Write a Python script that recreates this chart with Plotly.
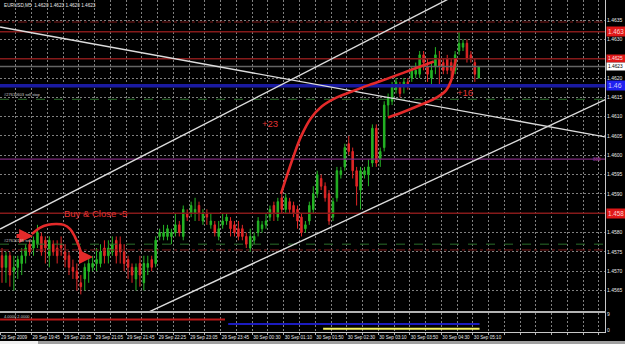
import plotly.graph_objects as go

# ---------------- data ----------------
bar_index = list(range(122))

open_ = [1.4574,1.4571,1.4574,1.4570,1.4571,1.4572,1.4574,1.4577,1.4576,1.4577,
         1.4579,1.4578,1.4574,1.4577,1.4576,1.4577,1.4575,1.4574,1.4571,1.4570,
         1.4567,1.4568,1.4570,1.4571,1.4572,1.4572,1.4576,1.4574,1.4575,1.4578,
         1.4577,1.4575,1.4573,1.4571,1.4568,1.4572,1.4567,1.4571,1.4573,1.4572,
         1.4579,1.4579,1.4579,1.4579,1.4580,1.4582,1.4579,1.4585,1.4585,1.4585,
         1.4587,1.4583,1.4585,1.4582,1.4582,1.4579,1.4582,1.4583,1.4583,1.4582,
         1.4581,1.4581,1.4579,1.4576,1.4578,1.4580,1.4581,1.4582,1.4584,1.4587,
         1.4584,1.4589,1.4586,1.4588,1.4587,1.4586,1.4584,1.4581,1.4583,1.4586,
         1.4590,1.4594,1.4592,1.4590,1.4584,1.4589,1.4595,1.4597,1.4603,1.4601,
         1.4596,1.4591,1.4595,1.4595,1.4598,1.4607,1.4599,1.4602,1.4613,1.4614,
         1.4617,1.4618,1.4618,1.4619,1.4620,1.4621,1.4621,1.4626,1.4623,1.4620,
         1.4623,1.4625,1.4624,1.4625,1.4624,1.4622,1.4627,1.4628,1.4629,1.4626,
         1.4624,1.4620]
high = [1.4576,1.4575,1.4575,1.4574,1.4574,1.4576,1.4577,1.4578,1.4579,1.4582,
        1.4580,1.4579,1.4579,1.4578,1.4578,1.4579,1.4577,1.4575,1.4573,1.4572,
        1.4569,1.4572,1.4574,1.4574,1.4576,1.4577,1.4578,1.4578,1.4579,1.4579,
        1.4579,1.4577,1.4574,1.4572,1.4572,1.4574,1.4574,1.4574,1.4574,1.4579,
        1.4581,1.4582,1.4582,1.4581,1.4585,1.4583,1.4587,1.4586,1.4588,1.4589,
        1.4588,1.4586,1.4586,1.4585,1.4583,1.4583,1.4585,1.4585,1.4584,1.4583,
        1.4583,1.4582,1.4580,1.4581,1.4580,1.4584,1.4583,1.4585,1.4587,1.4588,
        1.4589,1.4590,1.4590,1.4589,1.4588,1.4587,1.4585,1.4583,1.4588,1.4592,
        1.4596,1.4595,1.4593,1.4591,1.4589,1.4597,1.4597,1.4603,1.4605,1.4602,
        1.4597,1.4597,1.4597,1.4599,1.4608,1.4608,1.4602,1.4614,1.4616,1.4619,
        1.4620,1.4619,1.4620,1.4620,1.4623,1.4624,1.4627,1.4627,1.4625,1.4624,
        1.4628,1.4627,1.4625,1.4626,1.4625,1.4627,1.4632,1.4630,1.4630,1.4627,
        1.4625,1.4623]
low = [1.4567,1.4567,1.4566,1.4565,1.4568,1.4569,1.4572,1.4574,1.4574,1.4576,
       1.4574,1.4572,1.4571,1.4574,1.4572,1.4574,1.4571,1.4569,1.4568,1.4565,
       1.4564,1.4565,1.4567,1.4570,1.4570,1.4571,1.4572,1.4572,1.4574,1.4572,
       1.4572,1.4570,1.4568,1.4567,1.4565,1.4566,1.4565,1.4569,1.4570,1.4571,
       1.4578,1.4578,1.4578,1.4577,1.4579,1.4579,1.4578,1.4583,1.4584,1.4583,
       1.4583,1.4582,1.4582,1.4581,1.4579,1.4578,1.4581,1.4582,1.4579,1.4579,
       1.4578,1.4578,1.4576,1.4575,1.4577,1.4579,1.4580,1.4581,1.4583,1.4583,
       1.4583,1.4585,1.4585,1.4585,1.4584,1.4581,1.4579,1.4580,1.4582,1.4585,
       1.4589,1.4591,1.4588,1.4582,1.4583,1.4588,1.4594,1.4596,1.4600,1.4594,
       1.4587,1.4586,1.4594,1.4592,1.4597,1.4597,1.4597,1.4601,1.4610,1.4613,
       1.4616,1.4615,1.4616,1.4617,1.4619,1.4620,1.4620,1.4622,1.4619,1.4618,
       1.4621,1.4618,1.4621,1.4621,1.4620,1.4621,1.4626,1.4627,1.4624,1.4624,
       1.4619,1.4620]
close = [1.4571,1.4574,1.4569,1.4571,1.4573,1.4574,1.4576,1.4575,1.4578,1.4580,
         1.4575,1.4576,1.4578,1.4575,1.4574,1.4576,1.4573,1.4571,1.4570,1.4568,
         1.4566,1.4571,1.4572,1.4572,1.4573,1.4575,1.4574,1.4576,1.4577,1.4574,
         1.4575,1.4572,1.4571,1.4569,1.4571,1.4569,1.4572,1.4572,1.4571,1.4578,
         1.4580,1.4580,1.4581,1.4580,1.4582,1.4580,1.4586,1.4584,1.4587,1.4586,
         1.4585,1.4585,1.4584,1.4583,1.4580,1.4581,1.4583,1.4584,1.4581,1.4580,
         1.4579,1.4579,1.4577,1.4579,1.4579,1.4583,1.4582,1.4583,1.4586,1.4585,
         1.4588,1.4586,1.4589,1.4586,1.4585,1.4583,1.4580,1.4582,1.4587,1.4590,
         1.4595,1.4592,1.4589,1.4583,1.4588,1.4596,1.4596,1.4602,1.4601,1.4596,
         1.4592,1.4596,1.4596,1.4597,1.4607,1.4598,1.4601,1.4613,1.4615,1.4618,
         1.4619,1.4616,1.4619,1.4618,1.4622,1.4622,1.4626,1.4624,1.4621,1.4622,
         1.4626,1.4623,1.4622,1.4622,1.4622,1.4626,1.4629,1.4629,1.4625,1.4625,
         1.4621,1.4623]

time_labels = ["29 Sep 2009", "29 Sep 19:45", "29 Sep 20:25", "29 Sep 21:05",
               "29 Sep 21:45", "29 Sep 22:25", "29 Sep 23:05", "29 Sep 23:45",
               "30 Sep 00:30", "30 Sep 01:10", "30 Sep 01:50", "30 Sep 02:30",
               "30 Sep 03:10", "30 Sep 03:50", "30 Sep 04:30", "30 Sep 05:10"]
# 1.4585 and 1.4625 are hidden behind the coloured price boxes in the original
price_ticks = [1.4565, 1.4570, 1.4575, 1.4580, 1.4590, 1.4595, 1.4600,
               1.4605, 1.4610, 1.4615, 1.4620, 1.4630, 1.4635, 1.4640]

# horizontal level lines: price, colour, width, dash
level_prices = [1.46345, 1.4632, 1.4625, 1.4623, 1.4618, 1.46145, 1.4599, 1.4585, 1.4577, 1.45755]
level_colors = ["#7a1818", "#861a1a", "#861a1a", "#646464", "#1a1aa0", "#2a6e2a",
                "#7e2a7e", "#861a1a", "#2a6e2a", "#7a1818"]
level_widths = [1, 1.6, 1.6, 1.6, 3.5, 1, 1.2, 1.6, 1, 1]
level_dashes = ["dashdot", "solid", "solid", "solid", "solid", "dash", "solid", "solid", "dash", "dashdot"]

# trend lines (bar, price)
trend_upper_x = [-0.5, 130.0]
trend_upper_y = [1.45809, 1.46492]
trend_lower_x = [30.0, 155.0]
trend_lower_y = [1.45560, 1.46153]
trend_down_x = [-0.5, 155.0]
trend_down_y = [1.46332, 1.46044]

# hand-drawn red annotation curves (bar, price)
curve_buy_x = [7.6, 9.6, 11.7, 13.7, 15.7, 17.3, 18.5, 19.5, 20.3]
curve_buy_y = [1.45796, 1.45812, 1.45820, 1.45822, 1.45820, 1.45809, 1.45789, 1.45765, 1.45742]
curve_23_x = [70.8, 72.1, 73.9, 75.9, 78.4, 81.2, 85.0, 88.8, 93.4, 98.5, 104.1, 109.6]
curve_23_y = [1.45900, 1.45941, 1.45995, 1.46049, 1.46096, 1.46127, 1.46150, 1.46165,
              1.46183, 1.46201, 1.46222, 1.46243]
curve_16_x = [98.0, 102.3, 106.6, 110.4, 112.7, 114.0, 114.7, 115.2]
curve_16_y = [1.46098, 1.46114, 1.46132, 1.46150, 1.46168, 1.46194, 1.46225, 1.46250]
arrow_tail_x = [3.3, 19.8]
arrow_head_x = [7.9, 23.1]
arrow_y = [1.45791, 1.45737]

# indicator sub-window segments
sub_red_x, sub_red_y = [-0.5, 56.6], [6.1, 6.1]
sub_blue_x, sub_blue_y = [57.4, 121.2], [3.5, 3.5]
sub_yellow_x, sub_yellow_y = [81.5, 121.2], [0.76, 0.76]

# ---------------- figure ----------------
FONT = "Liberation Sans"
RED = "#e42a2a"
GRID = "rgba(150,150,150,0.85)"
fig = go.Figure()

xr = [-0.51, 153.04]
for p, c, w, d in zip(level_prices, level_colors, level_widths, level_dashes):
    fig.add_trace(go.Scatter(x=xr, y=[p, p], mode="lines", line=dict(color=c, width=w, dash=d),
                             hoverinfo="skip", showlegend=False, xaxis="x", yaxis="y"))

for tx, ty in [(trend_upper_x, trend_upper_y), (trend_lower_x, trend_lower_y), (trend_down_x, trend_down_y)]:
    fig.add_trace(go.Scatter(x=tx, y=ty, mode="lines", line=dict(color="#dcdcdc", width=1.4),
                             hoverinfo="skip", showlegend=False, xaxis="x", yaxis="y"))

fig.add_trace(go.Candlestick(
    x=bar_index, open=open_, high=high, low=low, close=close,
    increasing=dict(line=dict(color="#24b424", width=1), fillcolor="#24b424"),
    decreasing=dict(line=dict(color="#e02626", width=1), fillcolor="#e02626"),
    whiskerwidth=0, showlegend=False, xaxis="x", yaxis="y"))

for cx, cy in [(curve_buy_x, curve_buy_y), (curve_23_x, curve_23_y), (curve_16_x, curve_16_y)]:
    fig.add_trace(go.Scatter(x=cx, y=cy, mode="lines", line=dict(color=RED, width=2.6, shape="spline"),
                             hoverinfo="skip", showlegend=False, xaxis="x", yaxis="y"))

for sx, sy, c in [(sub_red_x, sub_red_y, "#b81818"), (sub_blue_x, sub_blue_y, "#1c1cc0"),
                  (sub_yellow_x, sub_yellow_y, "#f4f060")]:
    fig.add_trace(go.Scatter(x=sx, y=sy, mode="lines", line=dict(color=c, width=2),
                             hoverinfo="skip", showlegend=False, xaxis="x2", yaxis="y2"))

annotations = []
for tx, hx, ay in zip(arrow_tail_x, arrow_head_x, arrow_y):
    annotations.append(dict(x=hx, y=ay, ax=tx, ay=ay, xref="x", yref="y", axref="x", ayref="y",
                            showarrow=True, arrowhead=2, arrowsize=0.7, arrowwidth=4,
                            arrowcolor=RED, text=""))

def txt(x, y, s, size, color, xref="x", yref="y", xanchor="center", yanchor="middle", **kw):
    annotations.append(dict(x=x, y=y, text=s, xref=xref, yref=yref, showarrow=False,
                            xanchor=xanchor, yanchor=yanchor,
                            font=dict(family=FONT, size=size, color=color), **kw))

txt(23.6, 1.45850, "Buy &amp; Close -5", 9.5, "#e03434")
txt(68.0, 1.46083, "+23", 9.5, "#e03434")
txt(117.5, 1.46162, "+16", 9.5, "#e03434")
txt(0, 1, "EURUSD,M5  1.4620 1.4623 1.4620 1.4623", 4.7, "#e8e8e8", xref="paper", yref="paper",
    xanchor="left", yanchor="top", xshift=2, yshift=-1)
txt(0, 1.46158, "#27610603 sell stop", 4, "#d0d0d0", xref="paper", xanchor="left", xshift=2)
txt(0, 1.45780, "#27610136 sell", 4, "#d0d0d0", xref="paper", xanchor="left", xshift=2)
txt(0, 8.0, "4.0000 2.0000", 4, "#d0d0d0", xref="paper", yref="y2", xanchor="left", xshift=2)
txt(1, 1.4599, "888", 4.5, "#a040a0", xref="paper", xanchor="right", xshift=-2)

# right-hand price boxes (text as visible in the original, truncated by the window edge)
for p, s, bg, fc, sz in [(1.4632, "1.463", "#e01818", "#ffd0d0", 6.3),
                         (1.4625, "1.4625", "#e01818", "#ffe0e0", 4.8),
                         (1.4623, "1.4623", "#ffffff", "#000000", 4.8),
                         (1.4618, "1.46", "#2020f0", "#c8c8ff", 7),
                         (1.4585, "1.458", "#e01818", "#ffd0d0", 6.3)]:
    annotations.append(dict(x=1, y=p, xref="paper", yref="y", text=s, showarrow=False,
                            xanchor="left", yanchor="middle", xshift=1, bgcolor=bg,
                            width=17, align="left", borderpad=1,
                            font=dict(family=FONT, size=sz, color=fc)))

grid_vals = [4 * m - 0.5 for m in range(39)]
grid_text = [time_labels[m // 2] if (m % 2 == 0 and m // 2 < len(time_labels)) else "" for m in range(39)]

H = 332.0
fig.update_layout(
    width=625, height=344,
    margin=dict(l=0, r=20, t=0, b=12, pad=0, autoexpand=False),
    paper_bgcolor="black", plot_bgcolor="black",
    font=dict(family=FONT, color="#e8e8e8"),
    showlegend=False, hovermode=False, boxgap=0.45,
    annotations=annotations,
    xaxis=dict(domain=[0, 1], anchor="y", range=xr, tickmode="array", tickvals=grid_vals,
               showticklabels=False, ticks="", showgrid=True, gridcolor=GRID, griddash="2px,2px",
               gridwidth=1, zeroline=False, showline=True, linecolor="#b4b4b4", linewidth=2,
               rangeslider=dict(visible=False), fixedrange=True, automargin=False),
    yaxis=dict(domain=[21 / H, 1], anchor="x", range=[1.45597, 1.46402], side="right",
               tickmode="array", tickvals=price_ticks, tickformat=".4f", ticks="",
               tickfont=dict(size=5, color="#e8e8e8"), showgrid=True, gridcolor=GRID,
               griddash="2px,2px", gridwidth=1, zeroline=False, showline=True,
               linecolor="#c8c8c8", linewidth=1, automargin=False),
    xaxis2=dict(domain=[0, 1], anchor="y2", range=xr, matches="x", tickmode="array",
                tickvals=grid_vals, ticktext=grid_text, ticks="outside", ticklen=2,
                tickcolor="#b4b4b4", ticklabelposition="outside right", tickangle=0,
                tickfont=dict(size=4.6, color="#e8e8e8"), showgrid=True, gridcolor=GRID,
                griddash="2px,2px", gridwidth=1, zeroline=False, showline=True,
                linecolor="#c8c8c8", linewidth=1, automargin=False),
    yaxis2=dict(domain=[0, 19 / H], anchor="x2", range=[-1.16, 9.87], side="right",
                tickmode="array", tickvals=[0, 9], ticktext=["0", "9"], ticks="",
                tickfont=dict(size=5, color="#e8e8e8"), showgrid=False, zeroline=False,
                showline=True, linecolor="#c8c8c8", linewidth=1, automargin=False),
    shapes=[dict(type="rect", xref="paper", yref="paper", x0=0, x1=625 / 605,
                 y0=-12 / H, y1=-9 / H, fillcolor="#a0a0a0", line=dict(width=0)),
            dict(type="rect", xref="paper", yref="paper", x0=0, x1=38 / 605,
                 y0=-12 / H, y1=-9 / H, fillcolor="#f0f0f0", line=dict(width=0))],
)

fig.write_html("out.html")
